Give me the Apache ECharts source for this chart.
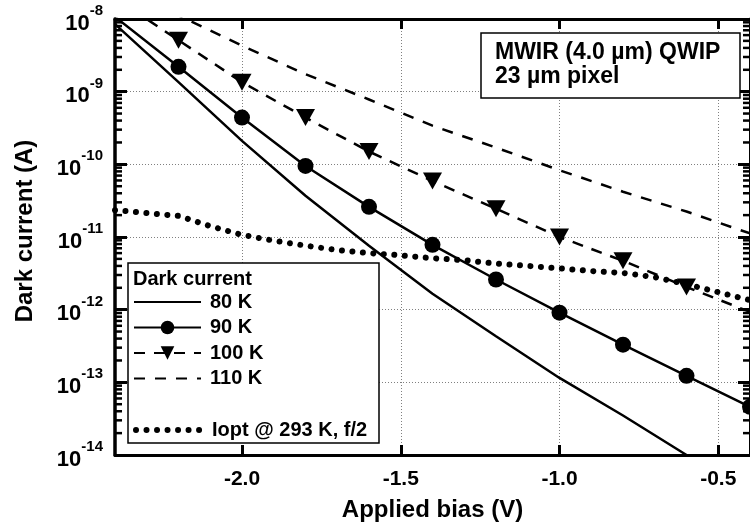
<!DOCTYPE html>
<html><head><meta charset="utf-8">
<script src="https://cdn.jsdelivr.net/npm/echarts@6/dist/echarts.min.js"></script>
<style>html,body{margin:0;padding:0;background:#fff}#c{width:750px;height:530px}</style>
</head><body><div id="c"></div>
<script>
// ---- data ----
const biasX   = [-2.4, -2.2, -2.0, -1.8, -1.6, -1.4, -1.2, -1.0, -0.8, -0.6, -0.4];
const dark80K  = [8.5e-9, 1.35e-9, 2.1e-10, 3.7e-11, 7.6e-12, 1.66e-12, 4.3e-13, 1.15e-13, 3.5e-14, 1.0e-14, 3.2e-15];
const dark90K  = [1.07e-8, 2.2e-9, 4.4e-10, 9.5e-11, 2.6e-11, 7.8e-12, 2.6e-12, 9.1e-13, 3.3e-13, 1.23e-13, 4.6e-14];
const dark100K = [1.95e-8, 5.1e-9, 1.35e-9, 4.4e-10, 1.5e-10, 5.9e-11, 2.45e-11, 1.0e-11, 4.7e-12, 2.05e-12, 9.3e-13];
const dark110K = [2.75e-8, 1.12e-8, 4.3e-9, 1.74e-9, 7.8e-10, 3.4e-10, 1.7e-10, 8.3e-11, 4.2e-11, 2.24e-11, 1.12e-11];
const ioptX = [-2.4, -2.3, -2.2, -2.1, -2.0, -1.9, -1.8, -1.7, -1.6, -1.5, -1.4, -1.3, -1.2, -1.1, -1.0, -0.9, -0.8, -0.7, -0.6, -0.5, -0.4];
const ioptA = [2.34e-11, 2.14e-11, 1.95e-11, 1.41e-11, 1.07e-11, 8.9e-12, 7.6e-12, 6.6e-12, 6.0e-12, 5.6e-12, 5.1e-12, 4.8e-12, 4.3e-12, 4.0e-12, 3.7e-12, 3.4e-12, 3.2e-12, 2.8e-12, 2.24e-12, 1.74e-12, 1.35e-12];
const xTicks = [-2.0, -1.5, -1.0, -0.5];
const yDecades = [-14, -13, -12, -11, -10, -9, -8];
const seriesNames = ['80 K', '90 K', '100 K', '110 K'];
const ioptName = 'Iopt @ 293 K, f/2';
const legendTitle = 'Dark current';
const noteText = 'MWIR (4.0 µm) QWIP\n23 µm pixel';
const xTitle = 'Applied bias (V)';
const yTitle = 'Dark current (A)';

const X_MIN = -2.4, X_MAX = -0.4, Y_MIN = 1e-14, Y_MAX = 1e-8;
const FONT = "'Liberation Sans', Arial, Helvetica, sans-serif";

function pairs(xs, ys) { return xs.map((x, i) => [x, ys[i]]); }
const minorVals = [];
yDecades.slice(0, -1).forEach(e => { for (let m = 2; m <= 9; m++) minorVals.push([X_MIN, m * Math.pow(10, e)]); });

const d90 = pairs(biasX, dark90K).map((p, i) => i === 0 ? { value: p, symbol: 'none' } : p);
const d100 = pairs(biasX, dark100K).map((p, i) => (i === 0 || i === biasX.length - 1) ? { value: p, symbol: 'none' } : p);

const chart = echarts.init(document.getElementById('c'), null, { renderer: 'canvas' });
const axisTxt = { fontFamily: FONT, fontWeight: 'bold', color: '#000' };
const noMarker = { color: 'rgba(0,0,0,0)', borderColor: 'rgba(0,0,0,0)', borderWidth: 0 };
const legText = Object.assign({ fontSize: 20, lineHeight: 20, padding: [0, 0, 0, 4] }, axisTxt);

const option = {
  animation: false,
  backgroundColor: '#fff',
  grid: { left: 115, top: 19, right: -6, bottom: 75 },
  xAxis: [
    {
      type: 'value', min: X_MIN, max: X_MAX, position: 'bottom',
      axisLine: { show: true, onZero: false, lineStyle: { color: '#000', width: 3 } },
      axisTick: { show: true, inside: true, length: 10, customValues: xTicks, lineStyle: { color: '#000', width: 3 } },
      axisLabel: Object.assign({ customValues: xTicks, fontSize: 21, margin: 13, lineHeight: 22, formatter: v => v.toFixed(1) }, axisTxt),
      splitLine: { show: true, lineStyle: { color: '#808080', width: 1, type: [1, 2] } },
      name: xTitle, nameLocation: 'middle', nameGap: 43,
      nameTextStyle: Object.assign({ fontSize: 24, lineHeight: 24 }, axisTxt)
    },
    {
      type: 'value', min: X_MIN, max: X_MAX, position: 'top',
      axisLine: { show: true, onZero: false, lineStyle: { color: '#000', width: 3 } },
      axisTick: { show: true, inside: true, length: 10, customValues: xTicks, lineStyle: { color: '#000', width: 3 } },
      axisLabel: { show: false }, splitLine: { show: false }
    }
  ],
  yAxis: [
    {
      type: 'log', logBase: 10, min: Y_MIN, max: Y_MAX, splitNumber: 6, position: 'left',
      axisLine: { show: true, onZero: false, lineStyle: { color: '#000', width: 3.5 } },
      axisTick: { show: true, inside: true, length: 12, lineStyle: { color: '#000', width: 3 } },
      axisLabel: {
        margin: 12,
        formatter: v => '{h| }{b|10}{s|' + Math.round(Math.log10(v)) + '}',
        rich: {
          h: { fontSize: 1, lineHeight: 31, width: 0 },
          b: Object.assign({ fontSize: 22, lineHeight: 22, verticalAlign: 'bottom' }, axisTxt),
          s: Object.assign({ fontSize: 15, lineHeight: 15, verticalAlign: 'top' }, axisTxt)
        }
      },
      splitLine: { show: true, lineStyle: { color: '#808080', width: 1, type: [1, 2] } },
      name: yTitle, nameLocation: 'middle', nameGap: 78,
      nameTextStyle: Object.assign({ fontSize: 24, lineHeight: 24, padding: [0, 0, 0, 12] }, axisTxt)
    },
    {
      type: 'log', logBase: 10, min: Y_MIN, max: Y_MAX, splitNumber: 6, position: 'right',
      axisLine: { show: true, onZero: false, lineStyle: { color: '#000', width: 3 } },
      axisTick: { show: true, inside: true, length: 12, lineStyle: { color: '#000', width: 3 } },
      axisLabel: { show: false }, splitLine: { show: false }
    }
  ],
  legend: [
    {
      data: [
        { name: seriesNames[0], itemStyle: noMarker },
        { name: seriesNames[1] },
        { name: seriesNames[2] },
        { name: seriesNames[3], itemStyle: noMarker }
      ],
      orient: 'vertical', left: 133, top: 292, padding: 0,
      itemWidth: 67, itemHeight: 17, itemGap: 5.5, selectedMode: false, z: 6,
      textStyle: legText
    },
    {
      data: [{ name: ioptName, itemStyle: noMarker, lineStyle: { width: 6, cap: 'round' } }],
      orient: 'vertical', left: 133, top: 420, padding: 0,
      itemWidth: 67, itemHeight: 17, selectedMode: false, z: 6,
      textStyle: legText
    }
  ],
  graphic: [
    { type: 'rect', z: 4, shape: { x: 128, y: 263, width: 251, height: 180 }, style: { fill: '#fff', stroke: '#000', lineWidth: 1.5 } },
    { type: 'text', z: 6, style: { x: 133, y: 279, text: legendTitle, font: 'bold 20px ' + FONT, fill: '#000', verticalAlign: 'middle' } },
    { type: 'rect', z: 4, shape: { x: 481, y: 33, width: 259, height: 65 }, style: { fill: '#fff', stroke: '#000', lineWidth: 1.5 } },
    { type: 'text', z: 6, style: { x: 495, y: 65, text: noteText, font: 'bold 23px ' + FONT, lineHeight: 24, fill: '#000', verticalAlign: 'middle' } }
  ],
  series: [
    { name: seriesNames[0], type: 'line', data: pairs(biasX, dark80K), symbol: 'none',
      lineStyle: { color: '#000', width: 2.5 }, itemStyle: { color: '#000' } },
    { name: seriesNames[1], type: 'line', data: d90, symbol: 'circle', symbolSize: 16, showAllSymbol: true,
      lineStyle: { color: '#000', width: 2.5 }, itemStyle: { color: '#000' } },
    { name: seriesNames[2], type: 'line', data: d100, symbol: 'triangle', symbolRotate: 180, symbolSize: [19, 17], showAllSymbol: true,
      lineStyle: { color: '#000', width: 2.5, type: [11, 9] }, itemStyle: { color: '#000' } },
    { name: seriesNames[3], type: 'line', data: pairs(biasX, dark110K), symbol: 'none',
      lineStyle: { color: '#000', width: 2.5, type: [11, 10] }, itemStyle: { color: '#000' } },
    { name: ioptName, type: 'line', data: pairs(ioptX, ioptA), symbol: 'none',
      lineStyle: { color: '#000', width: 6, type: [0.01, 10.5], cap: 'round' }, itemStyle: { color: '#000' } },
    { name: 'minor', type: 'custom', silent: true, clip: false, z: 3, data: minorVals,
      renderItem: function (params, api) {
        const v = api.value(1);
        const pl = api.coord([X_MIN, v]);
        const pr = api.coord([X_MAX, v]);
        return { type: 'group', children: [
          { type: 'line', shape: { x1: pl[0], y1: pl[1], x2: pl[0] + 7, y2: pl[1] }, style: { stroke: '#000', lineWidth: 2.5 } },
          { type: 'line', shape: { x1: pr[0] - 7, y1: pr[1], x2: pr[0], y2: pr[1] }, style: { stroke: '#000', lineWidth: 2.5 } }
        ] };
      } }
  ]
};
chart.setOption(option);
</script></body></html>
